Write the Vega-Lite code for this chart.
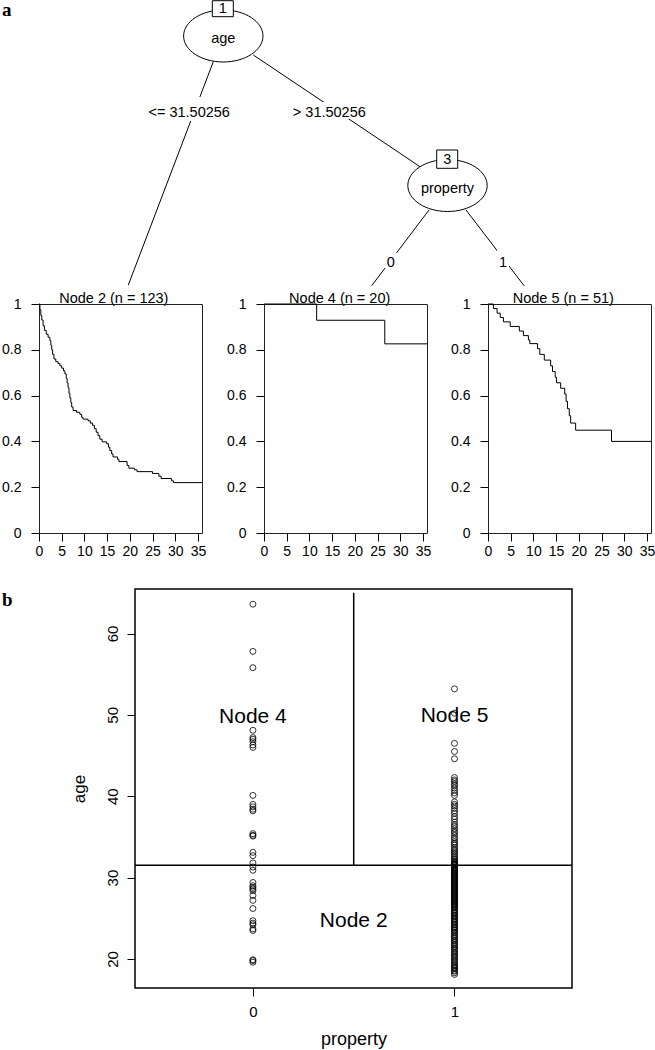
{
  "$schema": "https://vega.github.io/schema/vega-lite/v6.json",
  "padding": 0,
  "autosize": {"type": "pad"},
  "background": "white",
  "spacing": 0,
  "bounds": "flush",
  "config": {
    "view": {"stroke": null},
    "font": "Liberation Sans",
    "axis": {"grid": false, "domain": false, "tickColor": "black", "tickSize": 8, "tickWidth": 1, "labelColor": "black", "labelFont": "Liberation Sans", "labelFlush": false, "labelOverlap": false, "labelBound": false, "titleColor": "black", "titleFont": "Liberation Sans", "titleFontWeight": "normal"}
  },
  "datasets": {
    "edges": [
      {"x": 213.3, "y": 61.7, "x2": 128.3, "y2": 285},
      {"x": 253.3, "y": 55, "x2": 420, "y2": 166.7},
      {"x": 429, "y": 210, "x2": 371.7, "y2": 285.7},
      {"x": 466, "y": 210, "x2": 524.3, "y2": 286}
    ],
    "labelbg": [
      {"x": 146, "x2": 232, "y": 97, "y2": 121},
      {"x": 289, "x2": 369, "y": 102, "y2": 119},
      {"x": 384, "x2": 397, "y": 253, "y2": 268},
      {"x": 497, "x2": 509, "y": 249, "y2": 267}
    ],
    "edgelabels": [
      {"x": 189.2, "y": 113, "text": "<= 31.50256"},
      {"x": 329.3, "y": 113, "text": "> 31.50256"},
      {"x": 390.8, "y": 262.5, "text": "0"},
      {"x": 503, "y": 262.5, "text": "1"}
    ],
    "paneltitles": [
      {"x": 113.8, "y": 302.5, "text": "Node 2 (n = 123)"},
      {"x": 339.7, "y": 302.5, "text": "Node 4 (n = 20)"},
      {"x": 563.3, "y": 302.5, "text": "Node 5 (n = 51)"}
    ],
    "nodes": [
      {"x": 223.3, "y": 36, "var": "age"},
      {"x": 447.5, "y": 185.5, "var": "property"}
    ],
    "boxes": [
      {"x": 212.3, "x2": 233.3, "y": 0.7, "y2": 16.7, "cx": 222.8, "cy": 9.2, "label": "1"},
      {"x": 436.7, "x2": 457.7, "y": 150, "y2": 168.3, "cx": 447.2, "cy": 159.6, "label": "3"}
    ],
    "km": [
      {"node": "Node 2", "time": 0, "surv": 1},
      {"node": "Node 2", "time": 0.2, "surv": 0.975},
      {"node": "Node 2", "time": 0.4, "surv": 0.95},
      {"node": "Node 2", "time": 0.6, "surv": 0.93},
      {"node": "Node 2", "time": 0.9, "surv": 0.905},
      {"node": "Node 2", "time": 1.2, "surv": 0.885},
      {"node": "Node 2", "time": 1.6, "surv": 0.868},
      {"node": "Node 2", "time": 2.0, "surv": 0.855},
      {"node": "Node 2", "time": 2.4, "surv": 0.84},
      {"node": "Node 2", "time": 2.6, "surv": 0.82},
      {"node": "Node 2", "time": 2.8, "surv": 0.8},
      {"node": "Node 2", "time": 3.0, "surv": 0.78},
      {"node": "Node 2", "time": 3.3, "surv": 0.76},
      {"node": "Node 2", "time": 3.7, "surv": 0.748},
      {"node": "Node 2", "time": 4.2, "surv": 0.74},
      {"node": "Node 2", "time": 4.6, "surv": 0.73},
      {"node": "Node 2", "time": 5.0, "surv": 0.72},
      {"node": "Node 2", "time": 5.4, "surv": 0.708},
      {"node": "Node 2", "time": 5.7, "surv": 0.695},
      {"node": "Node 2", "time": 6.0, "surv": 0.675},
      {"node": "Node 2", "time": 6.2, "surv": 0.655},
      {"node": "Node 2", "time": 6.4, "surv": 0.635},
      {"node": "Node 2", "time": 6.6, "surv": 0.61},
      {"node": "Node 2", "time": 6.8, "surv": 0.59},
      {"node": "Node 2", "time": 7.0, "surv": 0.57},
      {"node": "Node 2", "time": 7.2, "surv": 0.55},
      {"node": "Node 2", "time": 7.5, "surv": 0.535},
      {"node": "Node 2", "time": 8.3, "surv": 0.527},
      {"node": "Node 2", "time": 9.0, "surv": 0.518},
      {"node": "Node 2", "time": 9.4, "surv": 0.505},
      {"node": "Node 2", "time": 9.7, "surv": 0.497},
      {"node": "Node 2", "time": 10.8, "surv": 0.49},
      {"node": "Node 2", "time": 11.3, "surv": 0.48},
      {"node": "Node 2", "time": 11.8, "surv": 0.47},
      {"node": "Node 2", "time": 12.2, "surv": 0.455},
      {"node": "Node 2", "time": 12.6, "surv": 0.44},
      {"node": "Node 2", "time": 13.0, "surv": 0.425},
      {"node": "Node 2", "time": 13.4, "surv": 0.41},
      {"node": "Node 2", "time": 13.9, "surv": 0.398},
      {"node": "Node 2", "time": 14.9, "surv": 0.39},
      {"node": "Node 2", "time": 15.3, "surv": 0.375},
      {"node": "Node 2", "time": 15.6, "surv": 0.36},
      {"node": "Node 2", "time": 16.0, "surv": 0.345},
      {"node": "Node 2", "time": 16.3, "surv": 0.332},
      {"node": "Node 2", "time": 17.3, "surv": 0.322},
      {"node": "Node 2", "time": 17.6, "surv": 0.312},
      {"node": "Node 2", "time": 19.4, "surv": 0.295},
      {"node": "Node 2", "time": 19.8, "surv": 0.283},
      {"node": "Node 2", "time": 21.0, "surv": 0.276},
      {"node": "Node 2", "time": 21.6, "surv": 0.268},
      {"node": "Node 2", "time": 25.0, "surv": 0.26},
      {"node": "Node 2", "time": 26.4, "surv": 0.248},
      {"node": "Node 2", "time": 26.9, "surv": 0.238},
      {"node": "Node 2", "time": 29.2, "surv": 0.228},
      {"node": "Node 2", "time": 29.6, "surv": 0.22},
      {"node": "Node 2", "time": 35.9, "surv": 0.22},
      {"node": "Node 4", "time": 0, "surv": 1},
      {"node": "Node 4", "time": 11.6, "surv": 0.929},
      {"node": "Node 4", "time": 26.6, "surv": 0.826},
      {"node": "Node 4", "time": 35.9, "surv": 0.826},
      {"node": "Node 5", "time": 0, "surv": 1},
      {"node": "Node 5", "time": 1.2, "surv": 0.98},
      {"node": "Node 5", "time": 2.0, "surv": 0.96},
      {"node": "Node 5", "time": 2.7, "surv": 0.941},
      {"node": "Node 5", "time": 3.4, "surv": 0.922},
      {"node": "Node 5", "time": 4.9, "surv": 0.902},
      {"node": "Node 5", "time": 6.9, "surv": 0.882},
      {"node": "Node 5", "time": 7.8, "surv": 0.862},
      {"node": "Node 5", "time": 8.9, "surv": 0.843},
      {"node": "Node 5", "time": 9.2, "surv": 0.827},
      {"node": "Node 5", "time": 10.9, "surv": 0.805},
      {"node": "Node 5", "time": 11.4, "surv": 0.78},
      {"node": "Node 5", "time": 12.4, "surv": 0.755},
      {"node": "Node 5", "time": 13.8, "surv": 0.73},
      {"node": "Node 5", "time": 14.2, "surv": 0.705},
      {"node": "Node 5", "time": 14.8, "surv": 0.68},
      {"node": "Node 5", "time": 15.1, "surv": 0.656},
      {"node": "Node 5", "time": 16.0, "surv": 0.632},
      {"node": "Node 5", "time": 16.9, "surv": 0.607},
      {"node": "Node 5", "time": 17.2, "surv": 0.575},
      {"node": "Node 5", "time": 17.5, "surv": 0.543},
      {"node": "Node 5", "time": 17.9, "surv": 0.512},
      {"node": "Node 5", "time": 18.2, "surv": 0.48},
      {"node": "Node 5", "time": 19.3, "surv": 0.449},
      {"node": "Node 5", "time": 27.2, "surv": 0.4},
      {"node": "Node 5", "time": 35.9, "surv": 0.4}
    ],
    "pts": [
      {"property": 0, "age": 63.6}, {"property": 0, "age": 57.8}, {"property": 0, "age": 55.8}, {"property": 0, "age": 48.1},
      {"property": 0, "age": 47.2}, {"property": 0, "age": 47.0}, {"property": 0, "age": 46.7}, {"property": 0, "age": 46.3},
      {"property": 0, "age": 46.0}, {"property": 0, "age": 40.1}, {"property": 0, "age": 39.0}, {"property": 0, "age": 38.7},
      {"property": 0, "age": 38.4}, {"property": 0, "age": 38.2}, {"property": 0, "age": 35.4}, {"property": 0, "age": 35.2},
      {"property": 0, "age": 35.1}, {"property": 0, "age": 33.1}, {"property": 0, "age": 32.7}, {"property": 0, "age": 31.8},
      {"property": 0, "age": 31.3}, {"property": 0, "age": 30.9}, {"property": 0, "age": 29.4}, {"property": 0, "age": 29.0},
      {"property": 0, "age": 28.8}, {"property": 0, "age": 28.6}, {"property": 0, "age": 28.4}, {"property": 0, "age": 27.8},
      {"property": 0, "age": 27.2}, {"property": 0, "age": 26.2}, {"property": 0, "age": 24.7}, {"property": 0, "age": 24.4},
      {"property": 0, "age": 24.2}, {"property": 0, "age": 23.7}, {"property": 0, "age": 23.5}, {"property": 0, "age": 19.9},
      {"property": 0, "age": 19.8}, {"property": 0, "age": 19.6},
      {"property": 1, "age": 53.2}, {"property": 1, "age": 50.2}, {"property": 1, "age": 46.5}, {"property": 1, "age": 45.5},
      {"property": 1, "age": 44.6}, {"property": 1, "age": 42.3}, {"property": 1, "age": 42.0}, {"property": 1, "age": 41.8},
      {"property": 1, "age": 41.5}, {"property": 1, "age": 41.3}, {"property": 1, "age": 41.0}, {"property": 1, "age": 40.7},
      {"property": 1, "age": 40.4}, {"property": 1, "age": 40.1}, {"property": 1, "age": 39.3}, {"property": 1, "age": 39.0},
      {"property": 1, "age": 38.8}, {"property": 1, "age": 38.5}, {"property": 1, "age": 38.2}, {"property": 1, "age": 37.9},
      {"property": 1, "age": 37.5}, {"property": 1, "age": 37.2}, {"property": 1, "age": 36.8}, {"property": 1, "age": 36.5},
      {"property": 1, "age": 36.3}, {"property": 1, "age": 36.0}, {"property": 1, "age": 35.7}, {"property": 1, "age": 35.5},
      {"property": 1, "age": 35.2}, {"property": 1, "age": 34.9}, {"property": 1, "age": 34.7}, {"property": 1, "age": 34.4},
      {"property": 1, "age": 34.2}, {"property": 1, "age": 34.0}, {"property": 1, "age": 33.7}, {"property": 1, "age": 33.5},
      {"property": 1, "age": 33.3}, {"property": 1, "age": 33.1}, {"property": 1, "age": 32.9}, {"property": 1, "age": 32.7},
      {"property": 1, "age": 32.5}, {"property": 1, "age": 32.3}, {"property": 1, "age": 32.2}, {"property": 1, "age": 32.0},
      {"property": 1, "age": 31.9}, {"property": 1, "age": 31.8}, {"property": 1, "age": 31.7}, {"property": 1, "age": 31.65},
      {"property": 1, "age": 31.6}, {"property": 1, "age": 31.58}, {"property": 1, "age": 31.55},
      {"property": 1, "age": 31.45}, {"property": 1, "age": 31.3}, {"property": 1, "age": 31.2}, {"property": 1, "age": 31.1},
      {"property": 1, "age": 31.0}, {"property": 1, "age": 30.9}, {"property": 1, "age": 30.8}, {"property": 1, "age": 30.7},
      {"property": 1, "age": 30.6}, {"property": 1, "age": 30.5}, {"property": 1, "age": 30.4}, {"property": 1, "age": 30.3},
      {"property": 1, "age": 30.2}, {"property": 1, "age": 30.1}, {"property": 1, "age": 30.0}, {"property": 1, "age": 29.9},
      {"property": 1, "age": 29.8}, {"property": 1, "age": 29.7}, {"property": 1, "age": 29.6}, {"property": 1, "age": 29.5},
      {"property": 1, "age": 29.4}, {"property": 1, "age": 29.3}, {"property": 1, "age": 29.2}, {"property": 1, "age": 29.1},
      {"property": 1, "age": 29.0}, {"property": 1, "age": 28.9}, {"property": 1, "age": 28.8}, {"property": 1, "age": 28.7},
      {"property": 1, "age": 28.6}, {"property": 1, "age": 28.5}, {"property": 1, "age": 28.4}, {"property": 1, "age": 28.3},
      {"property": 1, "age": 28.2}, {"property": 1, "age": 28.1}, {"property": 1, "age": 28.0}, {"property": 1, "age": 27.9},
      {"property": 1, "age": 27.8}, {"property": 1, "age": 27.7}, {"property": 1, "age": 27.6}, {"property": 1, "age": 27.5},
      {"property": 1, "age": 27.4}, {"property": 1, "age": 27.3}, {"property": 1, "age": 27.2}, {"property": 1, "age": 27.1},
      {"property": 1, "age": 27.0}, {"property": 1, "age": 26.9}, {"property": 1, "age": 26.8}, {"property": 1, "age": 26.7},
      {"property": 1, "age": 26.6}, {"property": 1, "age": 26.5}, {"property": 1, "age": 26.4}, {"property": 1, "age": 26.3},
      {"property": 1, "age": 26.1}, {"property": 1, "age": 26.0}, {"property": 1, "age": 25.8}, {"property": 1, "age": 25.7},
      {"property": 1, "age": 25.6}, {"property": 1, "age": 25.4}, {"property": 1, "age": 25.3}, {"property": 1, "age": 25.2},
      {"property": 1, "age": 25.0}, {"property": 1, "age": 24.9}, {"property": 1, "age": 24.8}, {"property": 1, "age": 24.6},
      {"property": 1, "age": 24.5}, {"property": 1, "age": 24.3}, {"property": 1, "age": 24.2}, {"property": 1, "age": 24.0},
      {"property": 1, "age": 23.9}, {"property": 1, "age": 23.8}, {"property": 1, "age": 23.6}, {"property": 1, "age": 23.5},
      {"property": 1, "age": 23.3}, {"property": 1, "age": 23.2}, {"property": 1, "age": 23.0}, {"property": 1, "age": 22.8},
      {"property": 1, "age": 22.7}, {"property": 1, "age": 22.5}, {"property": 1, "age": 22.3}, {"property": 1, "age": 22.2},
      {"property": 1, "age": 22.0}, {"property": 1, "age": 21.8}, {"property": 1, "age": 21.7}, {"property": 1, "age": 21.5},
      {"property": 1, "age": 21.3}, {"property": 1, "age": 21.2}, {"property": 1, "age": 21.0}, {"property": 1, "age": 20.8},
      {"property": 1, "age": 20.7}, {"property": 1, "age": 20.5}, {"property": 1, "age": 20.3}, {"property": 1, "age": 20.2},
      {"property": 1, "age": 20.0}, {"property": 1, "age": 19.8}, {"property": 1, "age": 19.7}, {"property": 1, "age": 19.5},
      {"property": 1, "age": 19.3}, {"property": 1, "age": 19.2}, {"property": 1, "age": 19.0}, {"property": 1, "age": 18.9},
      {"property": 1, "age": 18.8}, {"property": 1, "age": 18.6}, {"property": 1, "age": 18.5}, {"property": 1, "age": 18.3},
      {"property": 1, "age": 18.1}
    ],
    "nodelabels": [
      {"property": 0, "age": 49.7, "label": "Node 4"},
      {"property": 1, "age": 49.8, "label": "Node 5"},
      {"property": 0.5, "age": 24.7, "label": "Node 2"}
    ]
  },
  "vconcat": [
    {
      "width": 655,
      "height": 304,
      "layer": [
        {
          "data": {"name": "edges"},
          "mark": {"type": "rule", "color": "black", "strokeWidth": 1},
          "encoding": {
            "x": {"field": "x", "type": "quantitative", "scale": {"domain": [0, 655], "nice": false, "zero": false}, "axis": null},
            "y": {"field": "y", "type": "quantitative", "scale": {"domain": [0, 304], "reverse": true, "nice": false, "zero": false}, "axis": null},
            "x2": {"field": "x2"},
            "y2": {"field": "y2"}
          }
        },
        {
          "data": {"name": "labelbg"},
          "mark": {"type": "rect", "fill": "white", "strokeWidth": 0},
          "encoding": {
            "x": {"field": "x", "type": "quantitative"},
            "x2": {"field": "x2"},
            "y": {"field": "y", "type": "quantitative"},
            "y2": {"field": "y2"}
          }
        },
        {
          "data": {"name": "edgelabels"},
          "mark": {"type": "text", "fontSize": 14.5, "align": "center", "baseline": "middle", "color": "black"},
          "encoding": {
            "x": {"field": "x", "type": "quantitative"},
            "y": {"field": "y", "type": "quantitative"},
            "text": {"field": "text"}
          }
        },
        {
          "data": {"name": "paneltitles"},
          "mark": {"type": "text", "fontSize": 14.5, "align": "center", "baseline": "alphabetic", "color": "black"},
          "encoding": {
            "x": {"field": "x", "type": "quantitative"},
            "y": {"field": "y", "type": "quantitative"},
            "text": {"field": "text"}
          }
        },
        {
          "data": {"name": "nodes"},
          "mark": {"type": "point", "shape": "M -1 0 A 1 0.655 0 1 1 1 0 A 1 0.655 0 1 1 -1 0 Z", "size": 6300, "filled": true, "fill": "white", "stroke": "black", "strokeWidth": 1, "opacity": 1},
          "encoding": {
            "x": {"field": "x", "type": "quantitative"},
            "y": {"field": "y", "type": "quantitative"}
          }
        },
        {
          "data": {"name": "nodes"},
          "mark": {"type": "text", "fontSize": 14.5, "align": "center", "baseline": "middle", "dy": 3, "color": "black"},
          "encoding": {
            "x": {"field": "x", "type": "quantitative"},
            "y": {"field": "y", "type": "quantitative"},
            "text": {"field": "var"}
          }
        },
        {
          "data": {"name": "boxes"},
          "mark": {"type": "rect", "fill": "white", "stroke": "black", "strokeWidth": 1},
          "encoding": {
            "x": {"field": "x", "type": "quantitative"},
            "x2": {"field": "x2"},
            "y": {"field": "y", "type": "quantitative"},
            "y2": {"field": "y2"}
          }
        },
        {
          "data": {"name": "boxes"},
          "mark": {"type": "text", "fontSize": 14.5, "align": "center", "baseline": "middle", "color": "black"},
          "encoding": {
            "x": {"field": "cx", "type": "quantitative"},
            "y": {"field": "cy", "type": "quantitative"},
            "text": {"field": "label"}
          }
        },
        {
          "data": {"values": [{"x": 2, "y": 15.5, "t": "a"}]},
          "mark": {"type": "text", "align": "left", "baseline": "alphabetic", "font": "Liberation Serif", "fontWeight": "bold", "fontSize": 19, "color": "black"},
          "encoding": {
            "x": {"field": "x", "type": "quantitative"},
            "y": {"field": "y", "type": "quantitative"},
            "text": {"field": "t"}
          }
        }
      ]
    },
    {
      "spacing": 0,
      "bounds": "flush",
      "hconcat": [
        {"width": 39, "height": 229, "data": {"values": []}, "mark": "point"},
        {
          "width": 163, "height": 229,
          "view": {"stroke": "#222", "strokeWidth": 1},
          "data": {"name": "km"},
          "transform": [{"filter": "datum.node === 'Node 2'"}],
          "mark": {"type": "line", "interpolate": "step-after", "color": "black", "strokeWidth": 1},
          "encoding": {
            "x": {"field": "time", "type": "quantitative", "scale": {"domain": [0, 35.9], "nice": false, "zero": false}, "axis": {"values": [0, 5, 10, 15, 20, 25, 30, 35], "tickSize": 8, "labelFontSize": 14, "labelPadding": 3, "title": null}},
            "y": {"field": "surv", "type": "quantitative", "scale": {"domain": [0, 1], "nice": false}, "axis": {"values": [0, 0.2, 0.4, 0.6, 0.8, 1], "format": "~g", "tickSize": 8, "labelFontSize": 14, "labelPadding": 10, "title": null}}
          }
        },
        {"width": 62, "height": 229, "data": {"values": []}, "mark": "point"},
        {
          "width": 163, "height": 229,
          "view": {"stroke": "#222", "strokeWidth": 1},
          "data": {"name": "km"},
          "transform": [{"filter": "datum.node === 'Node 4'"}],
          "mark": {"type": "line", "interpolate": "step-after", "color": "black", "strokeWidth": 1},
          "encoding": {
            "x": {"field": "time", "type": "quantitative", "scale": {"domain": [0, 35.9], "nice": false, "zero": false}, "axis": {"values": [0, 5, 10, 15, 20, 25, 30, 35], "tickSize": 8, "labelFontSize": 14, "labelPadding": 3, "title": null}},
            "y": {"field": "surv", "type": "quantitative", "scale": {"domain": [0, 1], "nice": false}, "axis": {"values": [0, 0.2, 0.4, 0.6, 0.8, 1], "format": "~g", "tickSize": 8, "labelFontSize": 14, "labelPadding": 10, "title": null}}
          }
        },
        {"width": 61, "height": 229, "data": {"values": []}, "mark": "point"},
        {
          "width": 163, "height": 229,
          "view": {"stroke": "#222", "strokeWidth": 1},
          "data": {"name": "km"},
          "transform": [{"filter": "datum.node === 'Node 5'"}],
          "mark": {"type": "line", "interpolate": "step-after", "color": "black", "strokeWidth": 1},
          "encoding": {
            "x": {"field": "time", "type": "quantitative", "scale": {"domain": [0, 35.9], "nice": false, "zero": false}, "axis": {"values": [0, 5, 10, 15, 20, 25, 30, 35], "tickSize": 8, "labelFontSize": 14, "labelPadding": 3, "title": null}},
            "y": {"field": "surv", "type": "quantitative", "scale": {"domain": [0, 1], "nice": false}, "axis": {"values": [0, 0.2, 0.4, 0.6, 0.8, 1], "format": "~g", "tickSize": 8, "labelFontSize": 14, "labelPadding": 10, "title": null}}
          }
        }
      ]
    },
    {"width": 655, "height": 285, "data": {"values": []}, "mark": "point"},
    {
      "spacing": 0,
      "bounds": "flush",
      "hconcat": [
        {
          "width": 135, "height": 399,
          "data": {"values": [{"x": 2, "y": 17, "t": "b"}]},
          "mark": {"type": "text", "align": "left", "baseline": "alphabetic", "font": "Liberation Serif", "fontWeight": "bold", "fontSize": 19, "color": "black"},
          "encoding": {
            "x": {"field": "x", "type": "quantitative", "scale": {"domain": [0, 135], "nice": false, "zero": false}, "axis": null},
            "y": {"field": "y", "type": "quantitative", "scale": {"domain": [0, 399], "reverse": true, "nice": false, "zero": false}, "axis": null},
            "text": {"field": "t"}
          }
        },
        {
          "width": 437, "height": 399,
          "view": {"stroke": "black", "strokeWidth": 1.5},
          "layer": [
            {
              "data": {"name": "pts"},
              "mark": {"type": "point", "shape": "circle", "filled": false, "stroke": "black", "strokeWidth": 0.8, "size": 36, "opacity": 1},
              "encoding": {
                "x": {"field": "property", "type": "quantitative", "scale": {"domain": [-0.585, 1.583], "nice": false, "zero": false}, "axis": {"values": [0, 1], "format": "d", "labelFontSize": 15, "labelPadding": 8, "title": "property", "titleFontSize": 18, "titlePadding": 11}},
                "y": {"field": "age", "type": "quantitative", "scale": {"domain": [16.43, 65.47], "nice": false, "zero": false}, "axis": {"values": [20, 30, 40, 50, 60], "format": "d", "labelAngle": -90, "labelAlign": "center", "labelBaseline": "bottom", "labelFontSize": 15, "labelPadding": 7, "title": "age", "titleFontSize": 17, "titlePadding": 17}}
              }
            },
            {
              "data": {"values": [{"age": 31.50256}]},
              "mark": {"type": "rule", "color": "black", "strokeWidth": 1.5},
              "encoding": {"y": {"field": "age", "type": "quantitative"}}
            },
            {
              "data": {"values": [{"property": 0.5, "age": 31.50256, "age2": 65.0}]},
              "mark": {"type": "rule", "color": "black", "strokeWidth": 1.5},
              "encoding": {
                "x": {"field": "property", "type": "quantitative"},
                "y": {"field": "age", "type": "quantitative"},
                "y2": {"field": "age2"}
              }
            },
            {
              "data": {"name": "nodelabels"},
              "mark": {"type": "text", "fontSize": 21, "align": "center", "baseline": "middle", "color": "black"},
              "encoding": {
                "x": {"field": "property", "type": "quantitative"},
                "y": {"field": "age", "type": "quantitative"},
                "text": {"field": "label"}
              }
            }
          ]
        }
      ]
    }
  ]
}
